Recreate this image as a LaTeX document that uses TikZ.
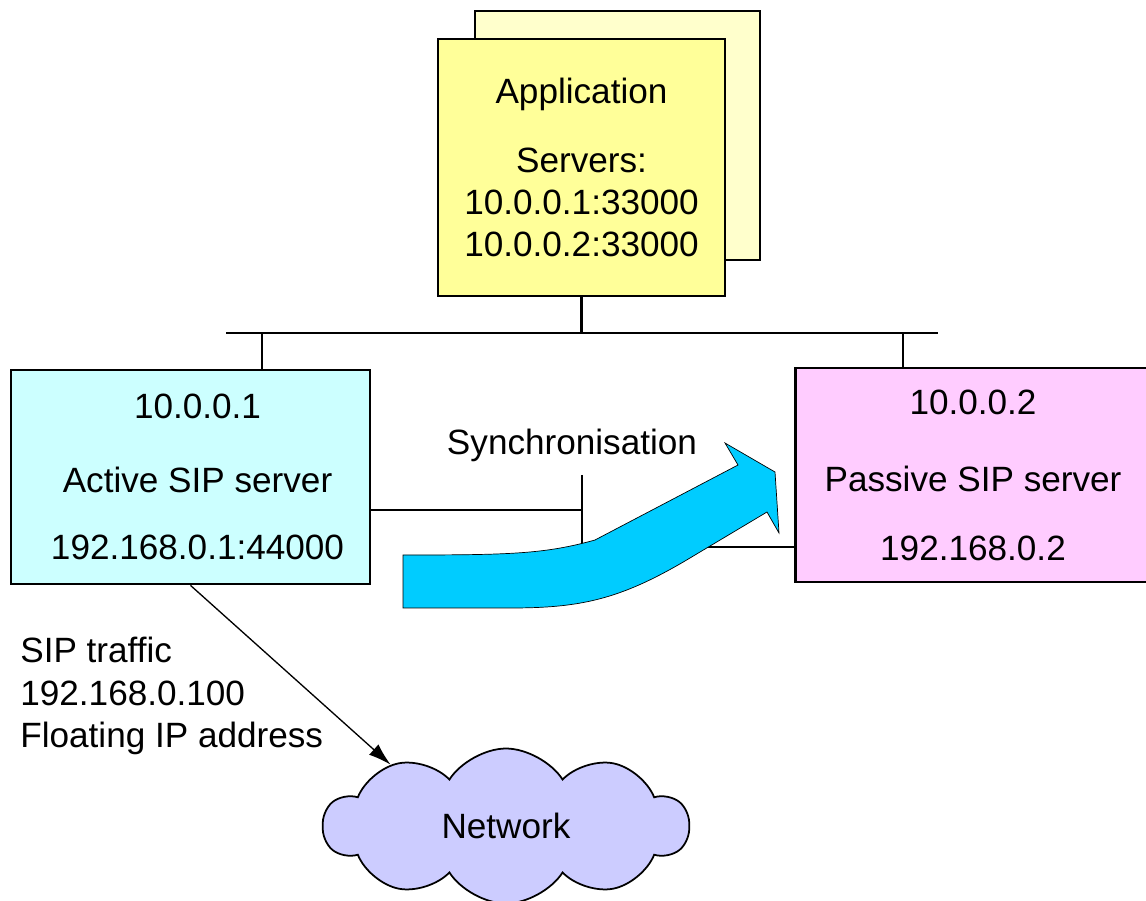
\documentclass[tikz,border=0pt]{standalone}
\usepackage{fontspec}
\setmainfont{Liberation Sans}
\usepackage{xcolor}
\usepackage{tikz}
\usetikzlibrary{positioning,%
  arrows.meta,%
  shapes.symbols,%
  calc
}
\definecolor{appfront}{HTML}{FFFF99}
\definecolor{appback}{HTML}{FFFFCC}
\definecolor{activefill}{HTML}{CCFFFF}
\definecolor{passivefill}{HTML}{FFCCFF}
\definecolor{syncblue}{HTML}{00CCFF}
\definecolor{netfill}{HTML}{CCCCFF}
\begin{document}
\begin{tikzpicture}
                    [x=0.02cm, y=-0.02cm,
                    every node/.style={font=\fontsize{20}{24}\selectfont},
                    box/.style={rectangle, draw=black, line width=1.6pt,
                        align=center},
                    app/.style={box, fill=appfront,
                        minimum width=5.74cm, minimum height=5.14cm},
                    appshadow/.style={box, fill=appback,
                        minimum width=5.7cm, minimum height=4.98cm},
                    srv/.style={box, minimum height=4.28cm},
                    net/.style={cloud, cloud puffs=10, aspect=2.4, cloud puff arc=115,
                        draw=black, line width=1pt, fill=netfill,
                        minimum width=7.3cm, minimum height=3.1cm},
                    bus/.style={line width=1.6pt},
                    syncarrow/.style={fill=syncblue, draw=black, line width=0.4pt},
                    traffic/.style={-{Latex[length=0.45cm,width=0.28cm]},
                        line width=0.75pt},
                    lbl/.style={inner sep=0pt}]

                    \useasboundingbox (0,0) rectangle (1146,901);

                    \node[appshadow] at (617.5,135.5)
                        (appb) {};
                    \node[app] at (581.5,167.5)
                        (appf) {Application\\[15pt] Servers:\\ 10.0.0.1:33000\\ 10.0.0.2:33000};

                    \coordinate (busl) at (226,333);
                    \coordinate (busr) at (938,333);
                    \coordinate (tapa) at (262,333);
                    \coordinate (tapp) at (903,333);

                    \node[srv, fill=activefill, minimum width=7.18cm] at (190.5,477)
                        (active) {\hspace*{8pt}10.0.0.1\\[18pt] \hspace*{8pt}Active SIP server\\[14pt] \hspace*{8pt}192.168.0.1:44000};
                    \node[srv, fill=passivefill, minimum width=7.1cm] at (973,475)
                        (passive) {10.0.0.2\\[20pt] Passive SIP server\\[15pt] 192.168.0.2};

                    \draw[bus] (busl) -- (busr);
                    \draw[bus] (appf.south) -- (appf.south |- busl);
                    \draw[bus] (tapa) -- (tapa |- active.north);
                    \draw[bus] (tapp) -- (tapp |- passive.north);

                    \coordinate (syncl) at (582,510);
                    \coordinate (synctop) at (582,475);
                    \coordinate (syncbot) at (582,547);
                    \draw[bus] (syncl -| active.east) -- (syncl);
                    \draw[bus] (synctop) -- (syncbot) -- (syncbot -| passive.west);

                    \node[lbl] at (572,445)
                        (sync) {Synchronisation};

                    \filldraw[syncarrow] (403,555) .. controls (510,555) and (545,554) .. (595,540)
                        -- (738,465) -- (725,443) -- (775,472) -- (779,533) -- (767,512)
                        -- (690,558) .. controls (620,600) and (580,608) .. (510,608)
                        -- (403,608) -- cycle;

                    \node[net] at (506,826)
                        (cloud) {Network};

                    \draw[traffic] (active.south) -- (cloud.152);

                    \node[lbl, align=left, anchor=west] at (20,696)
                        (sip) {SIP traffic\\ 192.168.0.100\\ Floating IP address};
                \end{tikzpicture}
\end{document}
